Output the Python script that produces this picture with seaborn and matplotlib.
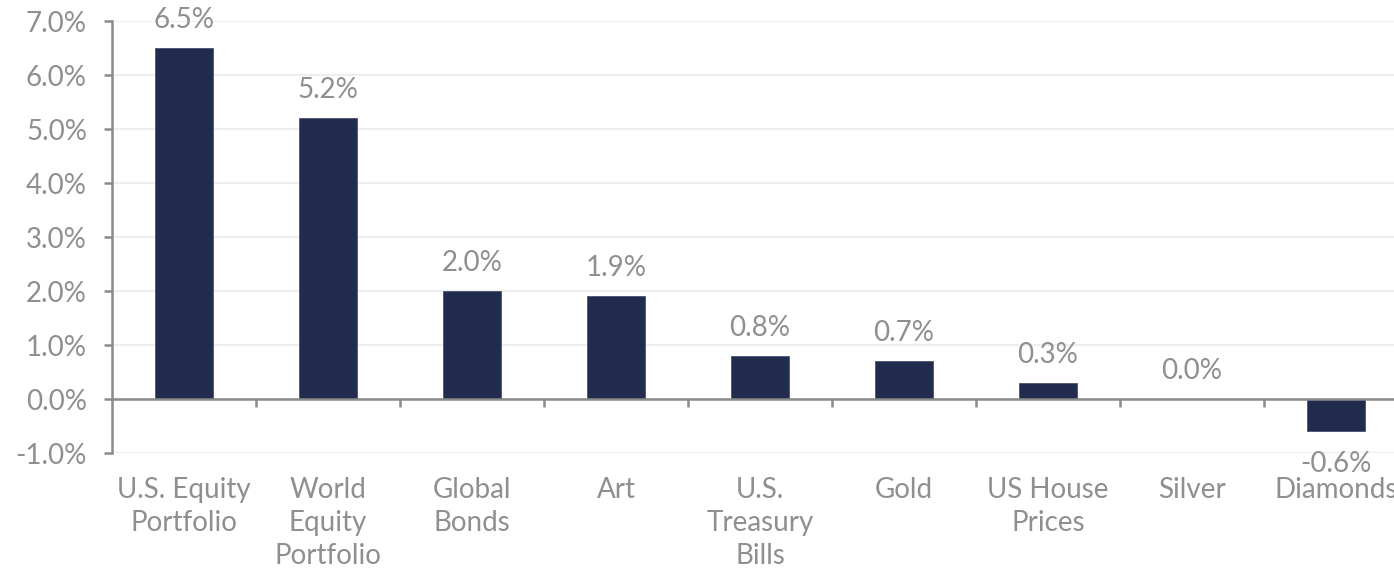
import matplotlib
matplotlib.use("Agg")
import matplotlib.pyplot as plt
import seaborn as sns
import pandas as pd
import numpy as np

categories = ["U.S. Equity\nPortfolio", "World\nEquity\nPortfolio", "Global\nBonds", "Art",
              "U.S.\nTreasury\nBills", "Gold", "US House\nPrices", "Silver", "Diamonds"]
values = [6.5, 5.2, 2.0, 1.9, 0.8, 0.7, 0.3, 0.0, -0.6]
yticks = [-1, 0, 1, 2, 3, 4, 5, 6, 7]

sns.set_theme(style="white")
plt.rcParams['font.family'] = ['Lato', 'DejaVu Sans']

TXT = "#8f8f8f"
AX = "#8a8a8a"
BAR = "#212b4d"
FS = 20

df = pd.DataFrame({"cat": categories, "val": values})

fig = plt.figure(figsize=(13.94, 5.68), dpi=100)
ax = fig.add_axes([112/1394, 1-453/568, 1-112/1394, (453-21)/568])

sns.barplot(data=df, x="cat", y="val", color=BAR, width=0.4, ax=ax,
            edgecolor="#4a5270", linewidth=0.6, saturation=1)

ax.set_ylim(-1, 7)
ax.set_xlim(-0.5, 8.403)
ax.set_yticks(yticks)
ax.set_yticklabels([f"{v:.1f}%" for v in yticks])
ax.set_xlabel("")
ax.set_ylabel("")

ax.grid(axis="y", color="#eeeeee", linewidth=1.6, zorder=0)
ax.set_axisbelow(True)

for s in ["top", "right"]:
    ax.spines[s].set_visible(False)
ax.spines["left"].set_color(AX)
ax.spines["left"].set_linewidth(1.8)
ax.spines["bottom"].set_position(("data", 0))
ax.spines["bottom"].set_color(AX)
ax.spines["bottom"].set_linewidth(1.8)

ax.tick_params(axis="y", which="major", left=True, length=6, width=1.8, color=AX,
               labelsize=FS, labelcolor=TXT, pad=12)
ax.set_xticks(np.arange(len(categories)))
ax.set_xticklabels(categories)
ax.tick_params(axis="x", which="major", length=0, labelsize=FS, labelcolor=TXT, pad=56)
ax.set_xticks(np.arange(len(categories) - 1) + 0.5, minor=True)
ax.tick_params(axis="x", which="minor", bottom=True, length=6, width=1.8, color=AX, direction="out")
for lab in ax.get_xticklabels():
    lab.set_linespacing(1.35)

for i, v in enumerate(values):
    if v >= 0:
        ax.annotate(f"{v:.1f}%", (i, v), xytext=(0, 11), textcoords="offset points",
                    ha="center", va="bottom", fontsize=FS, color=TXT)
    else:
        ax.annotate(f"{v:.1f}%", (i, v), xytext=(0, -14), textcoords="offset points",
                    ha="center", va="top", fontsize=FS, color=TXT)

fig.savefig("out.png", dpi=100)
